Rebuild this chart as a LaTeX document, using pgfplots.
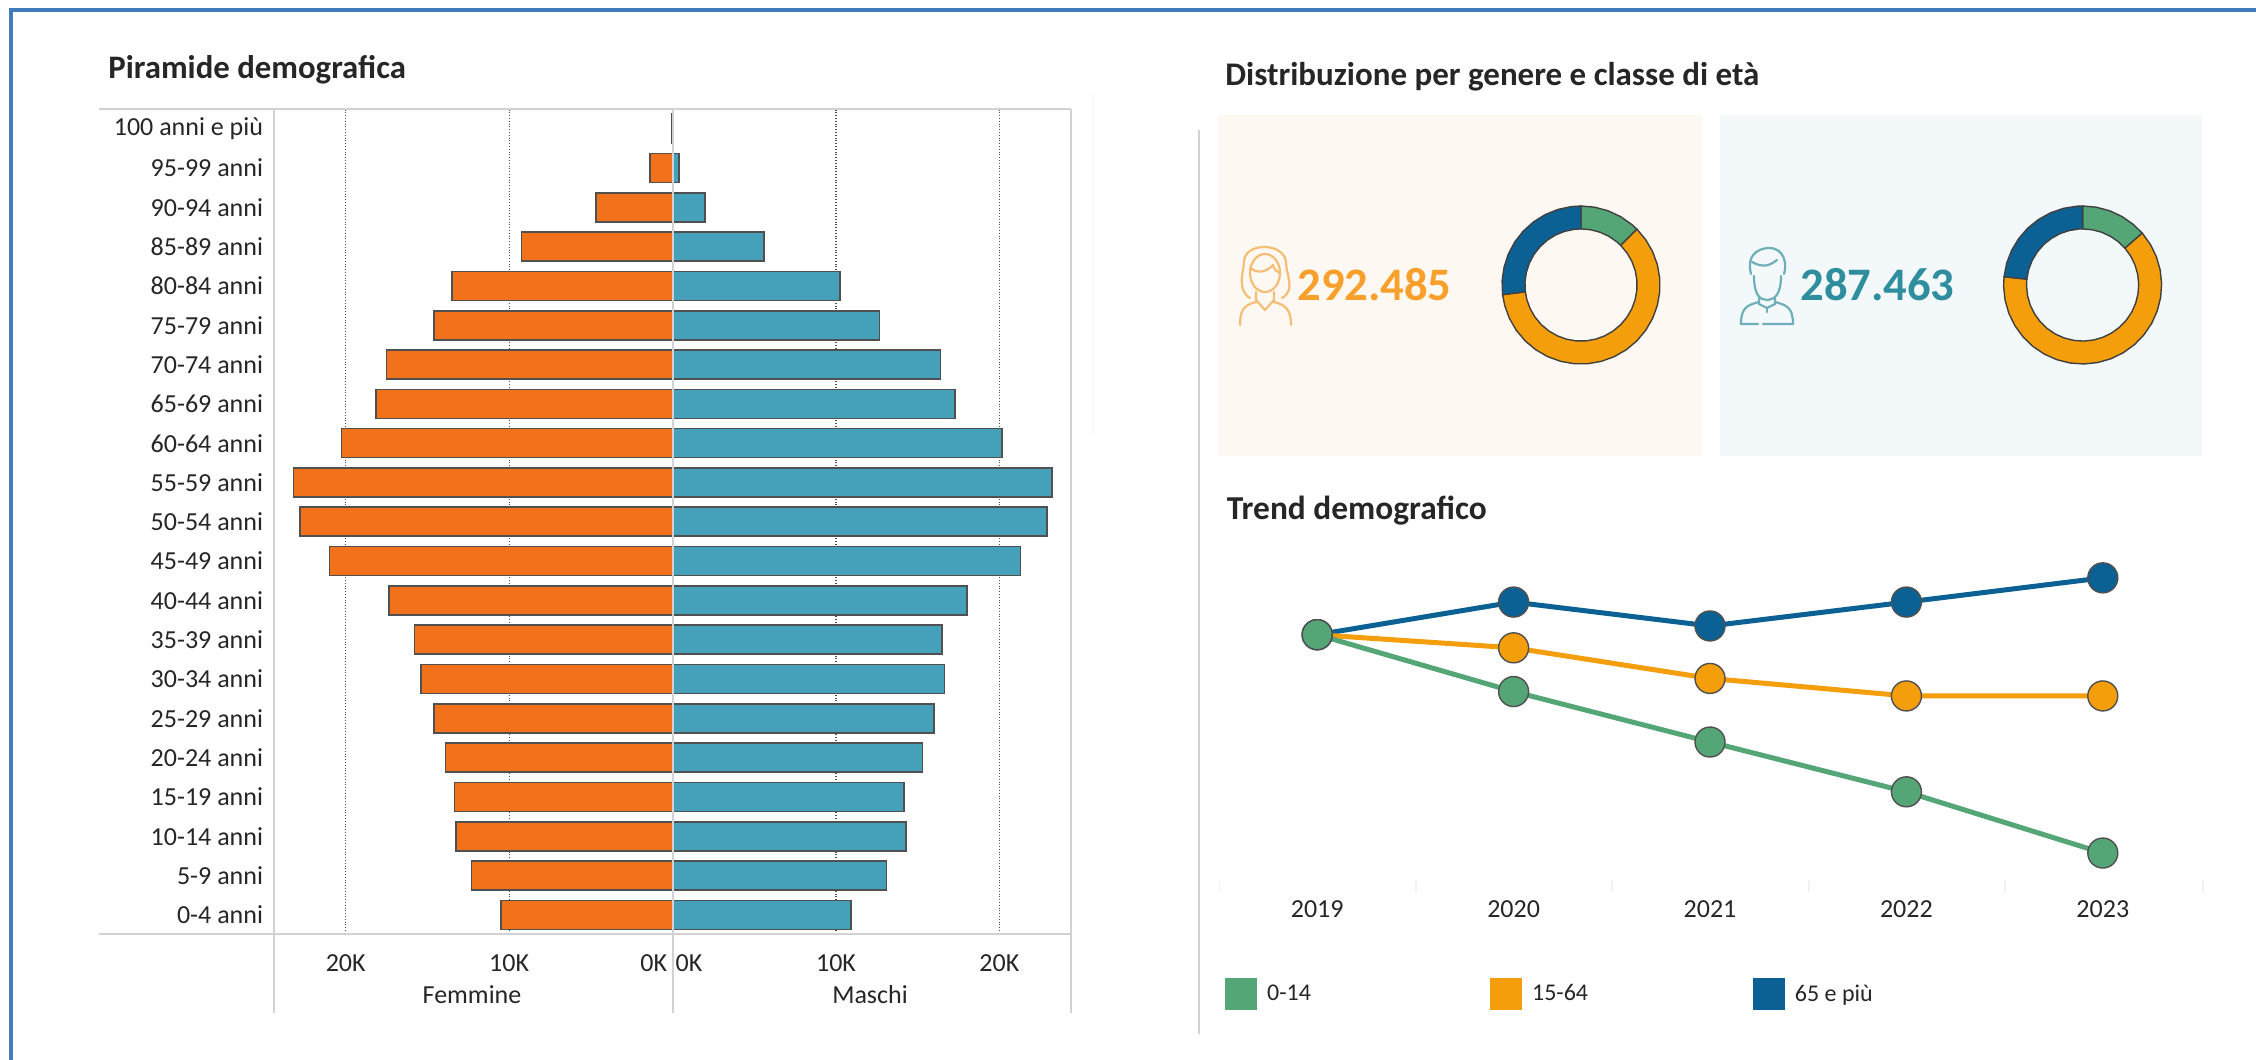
\documentclass[border=0pt]{standalone}
\usepackage{fontspec}
\setmainfont{Carlito}
\usepackage{pgfplots}
\usepackage{pgfplotstable}
\pgfplotsset{compat=1.18}
\usepgfplotslibrary{polar}
\definecolor{frameblue}{HTML}{3F7CB8}
\definecolor{fem}{HTML}{F2711B}
\definecolor{mas}{HTML}{45A0BA}
\definecolor{edge}{HTML}{505050}
\definecolor{rule}{HTML}{D2D2D2}
\definecolor{tgreen}{HTML}{54A677}
\definecolor{torange}{HTML}{F59E0B}
\definecolor{tblue}{HTML}{0B6194}
\definecolor{panelf}{HTML}{FDF8F2}
\definecolor{panelm}{HTML}{F3F8FA}
\definecolor{numf}{HTML}{F9A02C}
\definecolor{numm}{HTML}{2E8E9E}
\definecolor{icf}{HTML}{F6BE74}
\definecolor{icm}{HTML}{6FAFB8}
\definecolor{ink}{HTML}{262626}

% age classes, 0-4 first
\pgfplotstableread{
y   femmine  maschi
0   -10500   10900
1   -12300   13100
2   -13250   14300
3   -13350   14150
4   -13900   15300
5   -14600   16000
6   -15400   16650
7   -15800   16500
8   -17350   18000
9   -21000   21300
10  -22800   22900
11  -23200   23200
12  -20250   20150
13  -18150   17300
14  -17500   16400
15  -14600   12650
16  -13500   10250
17  -9250    5600
18  -4700    2000
19  -1370    400
20  -60      60
}\piramide

\pgfplotstableread{
anno  verde  arancio  blu
0     100    100      100
1     83.1   96.1     109.7
2     68.1   87.0     102.6
3     53.3   81.8     109.7
4     35.1   81.8     116.9
}\trend

% 1 reference pixel = 0.5pt
\newcommand{\txt}[1]{\fontsize{#1}{#1}\selectfont}
\tikzset{px/.style={x=0.5pt,y=-0.5pt}}
\pgfplotsset{donut/.style={
    hide axis, scale only axis, width=79pt, height=79pt,
    ymin=0, ymax=1, xmin=0, xmax=360, clip=false},
  ring/.style={draw=black!75, line width=0.7pt, fill=#1}}

\begin{document}
\begin{tikzpicture}
\path[use as bounding box] (0,0) rectangle (1128pt,-530pt);
\begin{scope}[px]
\fill[white] (0,0) rectangle (2256,1060);
\fill[frameblue] (9,8) rectangle (2256,11.5);
\fill[frameblue] (9,8) rectangle (12.5,1060);
\fill[panelf] (1218,115) rectangle (1702,456);
\fill[panelm] (1720,115) rectangle (2202,456);
\fill[panelf!50] (1091,92) rectangle (1095,436);
\draw[rule, line width=1pt] (1198.5,130) -- (1198.5,1034);
\node[anchor=base west, inner sep=0pt, text=ink, font=\txt{16.4}\bfseries] at (108,78) {Piramide demografica};
\node[anchor=base west, inner sep=0pt, text=ink, font=\txt{16.5}\bfseries] at (1225,85) {Distribuzione per genere e classe di età};
\node[anchor=base west, inner sep=0pt, text=ink, font=\txt{16.7}\bfseries] at (1226.5,519) {Trend demografico};
\node[anchor=west, inner sep=0pt, font=\txt{23.3}\bfseries, text=numf] at (1297,285) {292.485};
\node[anchor=west, inner sep=0pt, font=\txt{23.3}\bfseries, text=numm] at (1800,285) {287.463};
% woman icon
\begin{scope}[shift={(1220,230)}, icf, line width=1.1pt, line cap=round, line join=round]
\draw (45,43) ellipse (15 and 19);
\draw (30,38) .. controls (38,44) and (46,42) .. (53,35) .. controls (54,40) and (57,42) .. (60,43);
\draw (30,68) .. controls (16,60) and (24,40) .. (24,32) .. controls (24,12) and (64,12) .. (66,32) .. controls (66,45) and (76,60) .. (62,68);
\draw (36,62) -- (36,70) -- (45,80) -- (54,70) -- (54,62);
\draw (36,72) .. controls (24,75) and (20,80) .. (20,95);
\draw (54,72) .. controls (66,75) and (71,80) .. (71,95);
\end{scope}
% man icon
\begin{scope}[shift={(1725,230)}, icm, line width=1.1pt, line cap=round, line join=round]
\draw (29,46) .. controls (29,65) and (35,70) .. (42,70) .. controls (49,70) and (56,65) .. (56,46);
\draw (26,44) .. controls (20,20) and (40,18) .. (44,18) .. controls (60,18) and (62,35) .. (59,44);
\draw (27,32) .. controls (38,38) and (44,36) .. (52,30);
\draw (34,68) -- (34,74) -- (42,78) -- (50,74) -- (50,68);
\draw (34,72) .. controls (22,75) and (16,78) .. (16,94) -- (33,94);
\draw (50,72) .. controls (62,75) and (68,78) .. (68,94) -- (38,94);
\draw (42,78) -- (42,82);
\end{scope}
\end{scope}

% pyramid
\begin{axis}[
    at={(137pt,-466.8pt)}, anchor=south west,
    scale only axis, width=398.25pt, height=412.3pt,
    xbar, bar shift=0pt, bar width=14.5pt,
    xmin=-24390, xmax=24350, ymin=-0.476, ymax=20.5,
    axis line style={draw=none}, tick style={draw=none},
    scaled x ticks=false,
    xmajorgrids, grid style={densely dotted, black!70, line width=0.6pt},
    xtick={-20000,-10000,10000,20000}, xticklabels={20K,10K,10K,20K},
    extra x ticks={-1150,1000}, extra x tick labels={0K,0K},
    extra x tick style={grid=none},
    x tick label style={font=\txt{13}, text=ink, anchor=base, yshift=-19pt},
    ytick={0,...,20},
    yticklabels={0-4 anni,5-9 anni,10-14 anni,15-19 anni,20-24 anni,25-29 anni,30-34 anni,35-39 anni,40-44 anni,45-49 anni,50-54 anni,55-59 anni,60-64 anni,65-69 anni,70-74 anni,75-79 anni,80-84 anni,85-89 anni,90-94 anni,95-99 anni,100 anni e più},
    y tick label style={font=\txt{13}, text=ink, anchor=east, xshift=2.3pt},
    clip=false,
]
\addplot[fill=fem, draw=edge, line width=0.8pt] table[x=femmine, y=y] {\piramide};
\addplot[fill=mas, draw=edge, line width=0.8pt] table[x=maschi, y=y] {\piramide};
\end{axis}

% female donut
\begin{polaraxis}[donut, at={(790.5pt,-142.5pt)}, anchor=center]
\addplot[ring=tgreen] coordinates {(90,1)(80,1)(70,1)(60,1)(50,1)(45,1)(45,.71)(50,.71)(60,.71)(70,.71)(80,.71)(90,.71)} --cycle;
\addplot[ring=torange] coordinates {(45,1)(35,1)(25,1)(15,1)(5,1)(-5,1)(-15,1)(-25,1)(-35,1)(-45,1)(-55,1)(-65,1)(-75,1)(-85,1)(-95,1)(-105,1)(-115,1)(-125,1)(-135,1)(-145,1)(-155,1)(-165,1)(-173,1)
 (-173,.71)(-165,.71)(-155,.71)(-145,.71)(-135,.71)(-125,.71)(-115,.71)(-105,.71)(-95,.71)(-85,.71)(-75,.71)(-65,.71)(-55,.71)(-45,.71)(-35,.71)(-25,.71)(-15,.71)(-5,.71)(5,.71)(15,.71)(25,.71)(35,.71)(45,.71)} --cycle;
\addplot[ring=tblue] coordinates {(187,1)(177,1)(167,1)(157,1)(147,1)(137,1)(127,1)(117,1)(107,1)(97,1)(90,1)
 (90,.71)(97,.71)(107,.71)(117,.71)(127,.71)(137,.71)(147,.71)(157,.71)(167,.71)(177,.71)(187,.71)} --cycle;
\end{polaraxis}

% male donut
\begin{polaraxis}[donut, at={(1041.3pt,-142.5pt)}, anchor=center]
\addplot[ring=tgreen] coordinates {(90,1)(80,1)(70,1)(60,1)(50,1)(41,1)(41,.71)(50,.71)(60,.71)(70,.71)(80,.71)(90,.71)} --cycle;
\addplot[ring=torange] coordinates {(41,1)(31,1)(21,1)(11,1)(1,1)(-9,1)(-19,1)(-29,1)(-39,1)(-49,1)(-59,1)(-69,1)(-79,1)(-89,1)(-99,1)(-109,1)(-119,1)(-129,1)(-139,1)(-149,1)(-159,1)(-169,1)(-179,1)(-186,1)
 (-186,.71)(-179,.71)(-169,.71)(-159,.71)(-149,.71)(-139,.71)(-129,.71)(-119,.71)(-109,.71)(-99,.71)(-89,.71)(-79,.71)(-69,.71)(-59,.71)(-49,.71)(-39,.71)(-29,.71)(-19,.71)(-9,.71)(1,.71)(11,.71)(21,.71)(31,.71)(41,.71)} --cycle;
\addplot[ring=tblue] coordinates {(174,1)(164,1)(154,1)(144,1)(134,1)(124,1)(114,1)(104,1)(94,1)(90,1)
 (90,.71)(94,.71)(104,.71)(114,.71)(124,.71)(134,.71)(144,.71)(154,.71)(164,.71)(174,.71)} --cycle;
\end{polaraxis}

% trend
\begin{axis}[
    at={(609.5pt,-442.5pt)}, anchor=south west,
    scale only axis, width=491pt, height=162.5pt,
    xmin=-0.5, xmax=4.5, ymin=25.6, ymax=122.2,
    axis y line=none, axis x line=bottom,
    x axis line style={draw=none, -}, tick style={draw=none},
    xtick={0,...,4}, xticklabels={2019,2020,2021,2022,2023},
    x tick label style={font=\txt{13}, text=ink, anchor=base, yshift=-14pt},
    clip=false,
    reverse legend,
    legend cell align=left,
    legend image code/.code={\fill[#1] (0pt,-6.7pt) rectangle (13.4pt,6.7pt);},
    legend style={draw=none, fill=none, at={(0.006,-0.286)}, anchor=north west,
      legend columns=3, inner sep=0pt, font=\txt{12}, text=ink,
      /tikz/column 1/.style={column sep=3pt},
      /tikz/column 2/.style={column sep=87.7pt},
      /tikz/column 3/.style={column sep=3pt},
      /tikz/column 4/.style={column sep=80.5pt},
      /tikz/column 5/.style={column sep=3pt}},
]
\addplot[color=tblue, line width=2.5pt, mark=*, mark size=7.5pt, mark options={fill=tblue, draw=edge, line width=0.7pt}] table[x=anno, y=blu] {\trend};
\addplot[color=torange, line width=2.5pt, mark=*, mark size=7.5pt, mark options={fill=torange, draw=edge, line width=0.7pt}] table[x=anno, y=arancio] {\trend};
\addplot[color=tgreen, line width=2.5pt, mark=*, mark size=7.5pt, mark options={fill=tgreen, draw=edge, line width=0.7pt}] table[x=anno, y=verde] {\trend};
\legend{65 e più,15-64,0-14}
\end{axis}

\begin{scope}[px]
% pyramid frame
\draw[rule, line width=1.1pt] (99,109) -- (1070.5,109);
\draw[rule, line width=1.1pt] (99,933.6) -- (1070.5,933.6);
\draw[rule, line width=1pt] (274,109) -- (274,1013);
\draw[rule, line width=1pt] (672.6,109) -- (672.6,1013);
\draw[rule, line width=1pt] (1070.5,109) -- (1070.5,1013);
\node[font=\txt{13}, text=ink, inner sep=0pt] at (472,995) {Femmine};
\node[font=\txt{13}, text=ink, inner sep=0pt] at (870,995) {Maschi};
\foreach \x in {1219.4,1416,1612,1809,2005,2203}
  \draw[black!5, line width=0.6pt] (\x,880) -- (\x,892);
\end{scope}
\end{tikzpicture}
\end{document}
